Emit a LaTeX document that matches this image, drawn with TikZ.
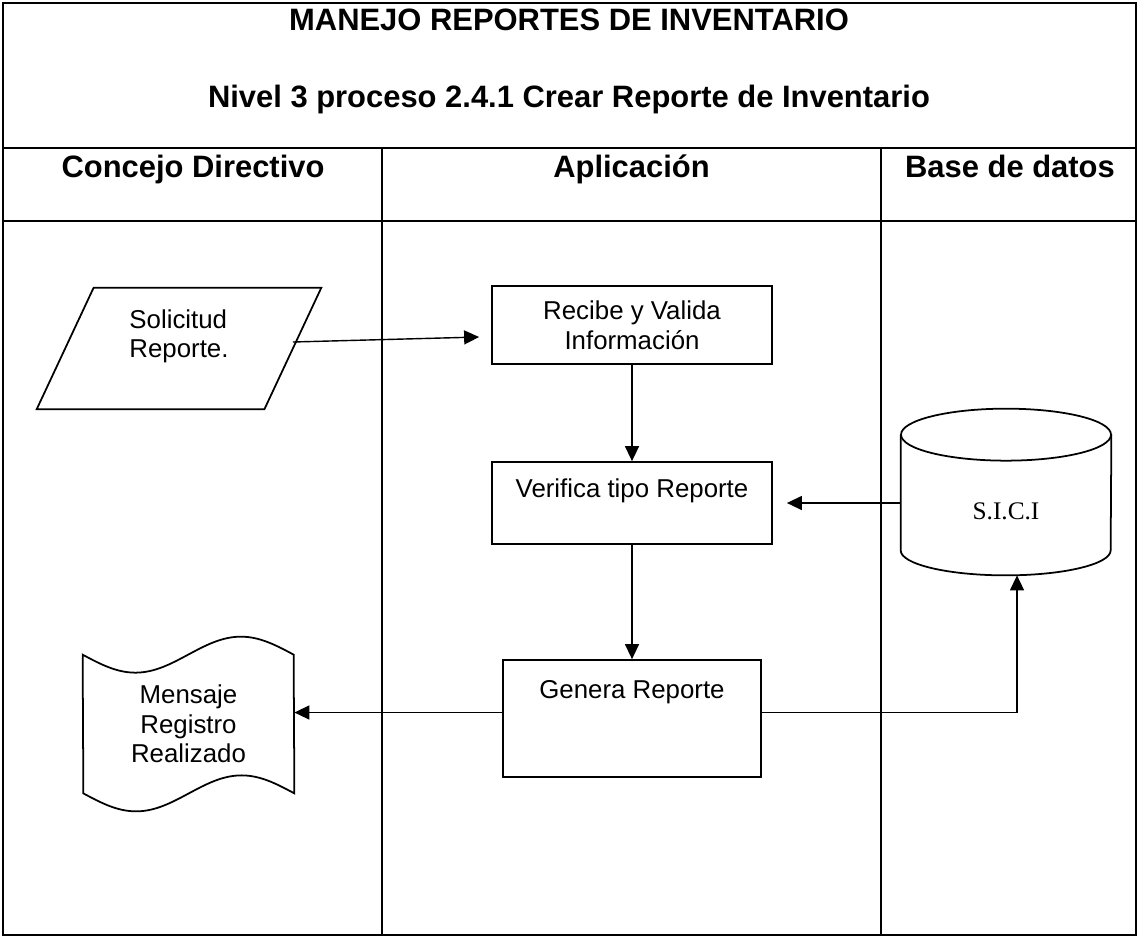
\documentclass[tikz,border=0pt]{standalone}
\usepackage{fontspec}
\setmainfont{Liberation Sans}
\newfontfamily\timesfont{Liberation Serif}
\usetikzlibrary{arrows.meta,positioning}

\begin{document}
\begin{tikzpicture}[>={Triangle[length=0.3cm,width=0.28cm]},
		lane/.style={line width=1.2pt},
		heading/.style={font=\fontsize{17.6}{21}\selectfont\bfseries, anchor=base, inner sep=0pt},
		proc/.style={draw, line width=1pt, align=center, minimum width=5.6cm, minimum height=1.56cm,
			font=\fontsize{14.7}{16.8}\selectfont, inner sep=0pt},
		shapetext/.style={font=\fontsize{14.7}{16.8}\selectfont, inner sep=0pt},
		outline/.style={line width=1pt},
		arrow/.style={->, line width=0.8pt}]
	\path[fill=white] (0,0) rectangle (22.76,-18.76);
	\draw[lane] (0.06,-0.06) rectangle (22.72,-18.70);
	\draw[lane] (0.06,-2.96) -- (22.72,-2.96);
	\draw[lane] (0.06,-4.42) -- (22.72,-4.42);
	\draw[lane] (7.64,-2.96) -- (7.64,-18.70);
	\draw[lane] (17.62,-2.96) -- (17.62,-18.70);
	\node[heading] (title) at (11.38,-0.60) {MANEJO REPORTES DE INVENTARIO};
	\node[heading] (subtitle) at (11.38,-2.14) {Nivel 3 proceso 2.4.1 Crear Reporte de Inventario};
	\node[heading] (consejo) at (3.86,-3.54) {Concejo Directivo};
	\node[heading] (aplicacion) at (12.63,-3.54) {Aplicación};
	\node[heading] (basedatos) at (20.20,-3.54) {Base de datos};
	\node[shapetext, align=left, minimum width=4.54cm, minimum height=2.42cm] (solicitud) at (3.58,-6.97)
		{Solicitud\\Reporte.\\\mbox{}};
	\draw[outline] ([xshift=0.57cm]solicitud.north west) -- ([xshift=0.57cm]solicitud.north east)
		-- ([xshift=-0.57cm]solicitud.south east) -- ([xshift=-0.57cm]solicitud.south west) -- cycle;
	\node[proc] (recibe) at (12.64,-6.50) {Recibe y Valida\\Información};
	\node[proc, minimum height=1.64cm] (verifica) at (12.64,-10.06) {Verifica tipo Reporte\\\mbox{}};
	\node[proc, minimum width=5.16cm, minimum height=2.34cm] (genera) at (12.64,-14.37)
		{Genera Reporte\\\mbox{}\\\mbox{}};
	\node[font=\timesfont\fontsize{14.4}{16.8}\selectfont, inner sep=0pt, minimum width=4.2cm,
		minimum height=2.3cm, text height=1.08cm, text depth=0pt] (sici) at (20.12,-9.85) {S.I.C.I};
	\draw[outline] (sici.north west) -- (sici.south west)
		arc[start angle=180, end angle=360, x radius=2.1cm, y radius=0.5cm] -- (sici.north east);
	\draw[outline] (sici.north) ellipse[x radius=2.1cm, y radius=0.52cm];
	\coordinate (sicibot) at ([xshift=0.22cm,yshift=-0.5cm]sici.south);
	\node[shapetext, align=center, minimum width=4.22cm, minimum height=2.76cm] (mensaje) at (3.77,-14.48)
		{Mensaje\\Registro\\Realizado};
	\draw[outline] (mensaje.north west) sin ++(1.055,-0.36) cos ++(1.055,0.36) sin ++(1.055,0.36)
		cos ++(1.055,-0.36) -- (mensaje.south east) sin ++(-1.055,0.36) cos ++(-1.055,-0.36)
		sin ++(-1.055,-0.36) cos ++(-1.055,0.36) -- cycle;
	\draw[arrow] ([yshift=0.13cm]solicitud.east) -- ([xshift=-0.24cm,yshift=-0.24cm]recibe.west);
	\draw[arrow] (recibe.south) -- (verifica.north);
	\draw[arrow] (verifica.south) -- (genera.north);
	\draw[arrow] (verifica.east -| sici.west) -- ([xshift=0.28cm]verifica.east);
	\draw[arrow] ([yshift=0.12cm]genera.west) -- ([yshift=0.12cm]genera.west -| mensaje.east);
	\draw[arrow] ([yshift=0.12cm]genera.east) -| (sicibot);
\end{tikzpicture}
\end{document}
